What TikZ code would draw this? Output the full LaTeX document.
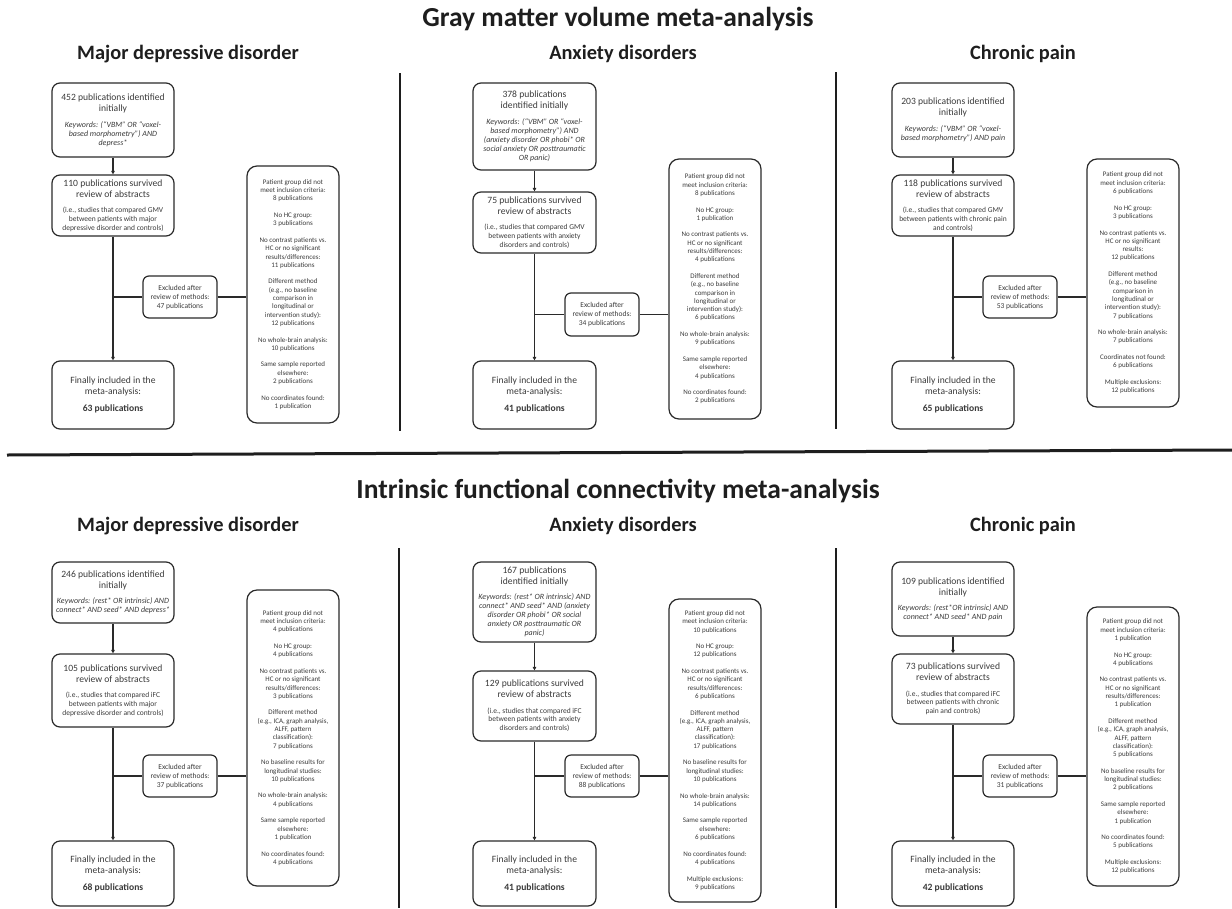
\documentclass[tikz,border=0pt]{standalone}
\usepackage{fontspec}
\setmainfont{Carlito}
\usetikzlibrary{arrows.meta}
\definecolor{ink}{HTML}{1E1E1E}
\definecolor{txt}{HTML}{3A3A3A}
\definecolor{edge}{HTML}{2A2A2A}
\newcommand\fmain{\fontsize{9.6}{11}\selectfont}
\newcommand\fkw{\fontsize{8}{9}\selectfont\itshape}
\newcommand\fsub{\fontsize{7.5}{8.8}\selectfont}
\newcommand\fex{\fontsize{7.5}{9}\selectfont}
\newcommand\frs{\fontsize{7}{8.3}\selectfont}
\newcommand\gp{\\[8.3pt]}
\begin{document}
\begin{tikzpicture}[x=1pt,y=-1pt,
  pbox/.style n args={3}{draw=edge, line width=1.2pt, rounded corners=#3pt,
     minimum width=#1pt, text width=#1pt, minimum height=#2pt,
     inner xsep=0pt, inner ysep=2pt, align=flush center, text=txt},
  rbox/.style={pbox={92}{#1}{10}, font=\frs},
  xbox/.style={pbox={74}{#1}{6}, font=\fex},
  arr/.style={draw=edge, line width=1.3pt, -{Triangle[length=3.5pt,width=3.5pt]}},
  conn/.style={draw=edge, line width=1.3pt},
  thickconn/.style={draw=edge, line width=2.4pt},
  sep/.style={draw=ink, line width=2.2pt},
  title/.style={anchor=base, text=ink, font=\fontsize{27.5}{30}\selectfont\bfseries},
  subtitle/.style={anchor=base, text=ink, font=\fontsize{20.4}{23}\selectfont\bfseries}
]
\useasboundingbox (0,0) rectangle (1232,908);

% ---------------- titles ----------------
\node[title] (t1) at (618,26) {Gray matter volume meta-analysis};
\node[subtitle] (s1) at (188,59) {Major depressive disorder};
\node[subtitle] (s2) at (623,59) {Anxiety disorders};
\node[subtitle] (s3) at (1023,59) {Chronic pain};

\node[title] (t2) at (618,498) {Intrinsic functional connectivity meta-analysis};
\node[subtitle] (s4) at (188,531) {Major depressive disorder};
\node[subtitle] (s5) at (623,531) {Anxiety disorders};
\node[subtitle] (s6) at (1023,531) {Chronic pain};

% separators
\draw[sep] (400,73) -- (400,431);
\draw[sep] (836,72) -- (836,429);
\draw[sep] (399,548) -- (399,908);
\draw[sep] (836,548) -- (836,908);
\draw[draw=ink, line width=3pt] (7,455) -- (1232,450);

% ================= GMV: MDD =================
\node[pbox={122}{74}{8}] (aA) at (113,120)
 {{\fmain 452 publications identified\\initially\par}\vspace{7pt}{\fkw Keywords: (“VBM” OR “voxel-\\based morphometry”) AND\\depress*\par}};
\node[pbox={122}{61}{8}] (aB) at (113,205.5)
 {{\fmain 110 publications survived\\review of abstracts\par}\vspace{6.5pt}{\fsub (i.e., studies that compared GMV\\between patients with major\\depressive disorder and controls)\par}};
\node[pbox={122}{68}{8}] (aC) at (113,395)
 {{\fmain Finally included in the\\meta-analysis:\par}\vspace{6pt}{\fmain\bfseries 63 publications\par}};
\node[xbox={42}] (aX) at (180,297) {Excluded after\\review of methods:\\47 publications};
\node[rbox={257}] (aR) at (293,294.5)
 {Patient group did not\\meet inclusion criteria:\\8 publications\gp
  No HC group:\\3 publications\gp
  No contrast patients vs.\\HC or no significant\\results/differences:\\11 publications\gp
  Different method\\(e.g., no baseline\\comparison in\\longitudinal or\\intervention study):\\12 publications\gp
  No whole-brain analysis:\\10 publications\gp
  Same sample reported\\elsewhere:\\2 publications\gp
  No coordinates found:\\1 publication};

% ================= GMV: Anxiety =================
\node[pbox={123}{87}{8}] (bA) at (534.5,126.5)
 {{\fmain 378 publications\\identified initially\par}\vspace{7pt}{\fkw Keywords: (“VBM” OR “voxel-\\based morphometry”) AND\\(anxiety disorder OR phobi* OR\\social anxiety OR posttraumatic\\OR panic)\par}};
\node[pbox={123}{61}{8}] (bB) at (534.5,222.5)
 {{\fmain 75 publications survived\\review of abstracts\par}\vspace{6.5pt}{\fsub (i.e., studies that compared GMV\\between patients with anxiety\\disorders and controls)\par}};
\node[pbox={123}{68}{8}] (bC) at (534.5,395)
 {{\fmain Finally included in the\\meta-analysis:\par}\vspace{6pt}{\fmain\bfseries 41 publications\par}};
\node[xbox={43}] (bX) at (602,314.5) {Excluded after\\review of methods:\\34 publications};
\node[rbox={260}] (bR) at (715,289)
 {Patient group did not\\meet inclusion criteria:\\8 publications\gp
  No HC group:\\1 publication\gp
  No contrast patients vs.\\HC or no significant\\results/differences:\\4 publications\gp
  Different method\\(e.g., no baseline\\comparison in\\longitudinal or\\intervention study):\\6 publications\gp
  No whole-brain analysis:\\9 publications\gp
  Same sample reported\\elsewhere:\\4 publications\gp
  No coordinates found:\\2 publications};

% ================= GMV: Chronic pain =================
\node[pbox={122}{74}{8}] (cA) at (953,120)
 {{\fmain 203 publications identified\\initially\par}\vspace{7pt}{\fkw Keywords: (“VBM” OR “voxel-\\based morphometry”) AND pain\par}};
\node[pbox={122}{61}{8}] (cB) at (953,205.5)
 {{\fmain 118 publications survived\\review of abstracts\par}\vspace{6.5pt}{\fsub (i.e., studies that compared GMV\\between patients with chronic pain\\and controls)\par}};
\node[pbox={122}{68}{8}] (cC) at (953,395)
 {{\fmain Finally included in the\\meta-analysis:\par}\vspace{6pt}{\fmain\bfseries 65 publications\par}};
\node[xbox={42}] (cX) at (1020,297) {Excluded after\\review of methods:\\53 publications};
\node[rbox={248}] (cR) at (1133,283)
 {Patient group did not\\meet inclusion criteria:\\6 publications\gp
  No HC group:\\3 publications\gp
  No contrast patients vs.\\HC or no significant\\results:\\12 publications\gp
  Different method\\(e.g., no baseline\\comparison in\\longitudinal or\\intervention study):\\7 publications\gp
  No whole-brain analysis:\\7 publications\gp
  Coordinates not found:\\6 publications\gp
  Multiple exclusions:\\12 publications};

% ================= iFC: MDD =================
\node[pbox={122}{61}{8}] (dA) at (113,592.5)
 {{\fmain 246 publications identified\\initially\par}\vspace{6pt}{\fkw Keywords: (rest* OR intrinsic) AND\\connect* AND seed* AND depress*\par}};
\node[pbox={122}{73}{8}] (dB) at (113,690.5)
 {{\fmain 105 publications survived\\review of abstracts\par}\vspace{6.5pt}{\fsub (i.e., studies that compared iFC\\between patients with major\\depressive disorder and controls)\par}};
\node[pbox={122}{65}{8}] (dC) at (113,873.5)
 {{\fmain Finally included in the\\meta-analysis:\par}\vspace{6pt}{\fmain\bfseries 68 publications\par}};
\node[xbox={42}] (dX) at (180,776) {Excluded after\\review of methods:\\37 publications};
\node[rbox={296}] (dR) at (293,738)
 {Patient group did not\\meet inclusion criteria:\\4 publications\gp
  No HC group:\\4 publications\gp
  No contrast patients vs.\\HC or no significant\\results/differences:\\3 publications\gp
  Different method\\(e.g., ICA, graph analysis,\\ALFF, pattern\\classification):\\7 publications\gp
  No baseline results for\\longitudinal studies:\\10 publications\gp
  No whole-brain analysis:\\4 publications\gp
  Same sample reported\\elsewhere:\\1 publication\gp
  No coordinates found:\\4 publications};

% ================= iFC: Anxiety =================
\node[pbox={123}{80}{8}] (eA) at (534.5,602)
 {{\fmain 167 publications\\identified initially\par}\vspace{6pt}{\fkw Keywords: (rest* OR intrinsic) AND\\connect* AND seed* AND (anxiety\\disorder OR phobi* OR social\\anxiety OR posttraumatic OR\\panic)\par}};
\node[pbox={123}{70}{8}] (eB) at (534.5,706)
 {{\fmain 129 publications survived\\review of abstracts\par}\vspace{6.5pt}{\fsub (i.e., studies that compared iFC\\between patients with anxiety\\disorders and controls)\par}};
\node[pbox={123}{65}{8}] (eC) at (534.5,873.5)
 {{\fmain Finally included in the\\meta-analysis:\par}\vspace{6pt}{\fmain\bfseries 41 publications\par}};
\node[xbox={42}] (eX) at (602,776) {Excluded after\\review of methods:\\88 publications};
\node[rbox={303}] (eR) at (715,750.5)
 {Patient group did not\\meet inclusion criteria:\\10 publications\gp
  No HC group:\\12 publications\gp
  No contrast patients vs.\\HC or no significant\\results/differences:\\6 publications\gp
  Different method\\(e.g., ICA, graph analysis,\\ALFF, pattern\\classification):\\17 publications\gp
  No baseline results for\\longitudinal studies:\\10 publications\gp
  No whole-brain analysis:\\14 publications\gp
  Same sample reported\\elsewhere:\\6 publications\gp
  No coordinates found:\\4 publications\gp
  Multiple exclusions:\\9 publications};

% ================= iFC: Chronic pain =================
\node[pbox={122}{74}{8}] (fA) at (953,599)
 {{\fmain 109 publications identified\\initially\par}\vspace{6pt}{\fkw Keywords: (rest*OR intrinsic) AND\\connect* AND seed* AND pain\par}};
\node[pbox={122}{70}{8}] (fB) at (953,689)
 {{\fmain 73 publications survived\\review of abstracts\par}\vspace{6.5pt}{\fsub (i.e., studies that compared iFC\\between patients with chronic\\pain and controls)\par}};
\node[pbox={122}{65}{8}] (fC) at (953,873.5)
 {{\fmain Finally included in the\\meta-analysis:\par}\vspace{6pt}{\fmain\bfseries 42 publications\par}};
\node[xbox={42}] (fX) at (1020,776) {Excluded after\\review of methods:\\31 publications};
\node[rbox={279}] (fR) at (1133,746.5)
 {Patient group did not\\meet inclusion criteria:\\1 publication\gp
  No HC group:\\4 publications\gp
  No contrast patients vs.\\HC or no significant\\results/differences:\\1 publication\gp
  Different method\\(e.g., ICA, graph analysis,\\ALFF, pattern\\classification):\\5 publications\gp
  No baseline results for\\longitudinal studies:\\2 publications\gp
  Same sample reported\\elsewhere:\\1 publication\gp
  No coordinates found:\\5 publications\gp
  Multiple exclusions:\\12 publications};

% ================= connectors =================
\foreach \p in {a,b,c,d,e}{
  \draw[arr] (\p A) -- (\p B);
  \draw[arr] (\p B) -- (\p C);
  \draw[conn] (\p X.west -| \p B.south) -- (\p X.west);
  \draw[conn] (\p X.east) -- (\p X.east -| \p R.west);
}
\draw[arr] (fA) -- (fB);
\draw[arr] (fB) -- (fC);
\draw[thickconn] (fX.west -| fB.south) -- (fX.west);
\draw[thickconn] (fX.east) -- (fX.east -| fR.west);
\end{tikzpicture}
\end{document}
